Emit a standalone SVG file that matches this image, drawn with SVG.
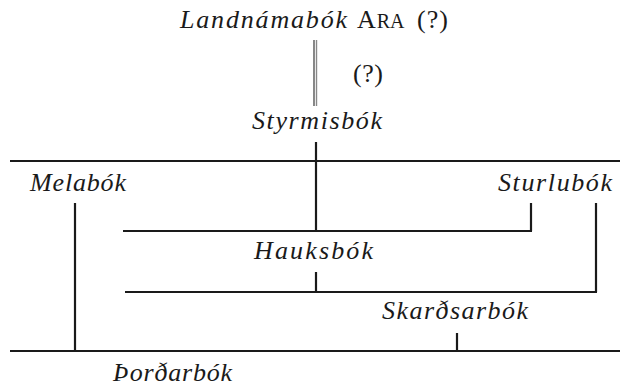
<svg xmlns="http://www.w3.org/2000/svg" width="620" height="390" viewBox="0 0 620 390">
  <style>
    .t { font-family: "Liberation Serif", "Times New Roman", serif; font-size: 26px; font-style: italic; fill: #1a1a1a; }
    .u { font-style: normal; }
    .ln { stroke: #1a1a1a; stroke-width: 2.2; fill: none; }
  </style>
  <rect width="620" height="390" fill="#ffffff"/>

  <g id="connectors">
    <!-- uncertain descent: doubled grey stroke -->
    <line x1="314" y1="40" x2="314" y2="106" stroke="#555" stroke-width="1.4"/>
    <line x1="316.5" y1="40" x2="316.5" y2="106" stroke="#888" stroke-width="1.4"/>
    <line class="ln" x1="10" y1="161" x2="620" y2="161"/>
    <line class="ln" x1="316" y1="142" x2="316" y2="231"/>
    <line class="ln" x1="75" y1="203" x2="75" y2="352"/>
    <line class="ln" x1="531" y1="203" x2="531" y2="231"/>
    <line class="ln" x1="596" y1="203" x2="596" y2="292"/>
    <line class="ln" x1="123" y1="231" x2="532" y2="231"/>
    <line class="ln" x1="316" y1="272" x2="316" y2="292"/>
    <line class="ln" x1="125" y1="292" x2="597" y2="292"/>
    <line class="ln" x1="457" y1="333" x2="457" y2="352"/>
    <line class="ln" x1="10" y1="351" x2="620" y2="351"/>
  </g>

  <g id="landnamabok-ara">
    <text class="t" x="180" y="28" textLength="167" lengthAdjust="spacing">Landnámabók</text>
    <text class="t u" x="357" y="28">A<tspan font-size="20" dx="1">RA</tspan></text>
    <text class="t u" x="417" y="28" textLength="31" lengthAdjust="spacing">(?)</text>
  </g>
  <g id="query">
    <text class="t u" x="353" y="82" textLength="30" lengthAdjust="spacing">(?)</text>
  </g>
  <g id="styrmisbok">
    <text class="t" x="252" y="129" textLength="130" lengthAdjust="spacing">Styrmisbók</text>
  </g>
  <g id="melabok">
    <text class="t" x="30" y="191" textLength="96" lengthAdjust="spacing">Melabók</text>
  </g>
  <g id="sturlubok">
    <text class="t" x="498" y="191" textLength="114" lengthAdjust="spacing">Sturlubók</text>
  </g>
  <g id="hauksbok">
    <text class="t" x="254" y="259" textLength="119" lengthAdjust="spacing">Hauksbók</text>
  </g>
  <g id="skardsarbok">
    <text class="t" x="382" y="319" textLength="146" lengthAdjust="spacing">Skarðsarbók</text>
  </g>
  <g id="thordarbok">
    <text class="t" x="113" y="381" textLength="119" lengthAdjust="spacing">Þorðarbók</text>
  </g>
</svg>
